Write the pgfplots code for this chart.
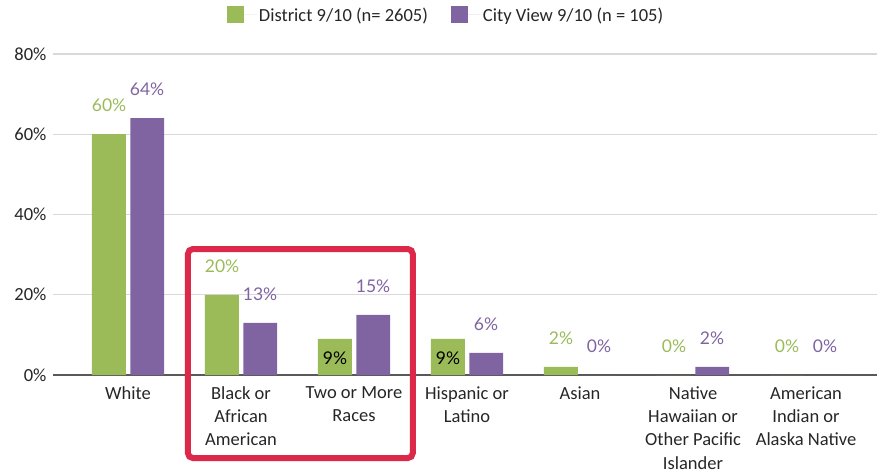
\documentclass[border=0pt]{standalone}
\usepackage{fontspec}
\setmainfont{Carlito}
\newfontfamily\labfont{Lato}
\usepackage{pgfplots}
\pgfplotsset{compat=1.18}
\usetikzlibrary{calc}
\definecolor{cgreen}{HTML}{9BBB59}
\definecolor{cpurple}{HTML}{8064A2}
\definecolor{cred}{HTML}{DC2849}
\definecolor{cgrid}{HTML}{D9D9D9}
\definecolor{caxis}{HTML}{595959}
\definecolor{ctext}{HTML}{262626}
\begin{document}
\begin{tikzpicture}
\begin{axis}[
  name=ax,
  scale only axis, width=824pt, height=321pt,
  xmin=-0.664, xmax=6.628, ymin=0, ymax=80,
  axis line style={draw=none},
  major tick length=0pt,
  ymajorgrids, grid style={cgrid, line width=1.3pt},
  ytick={20,40,60,80},
  extra y ticks={0},
  extra y tick labels={0\%},
  extra y tick style={grid style={caxis, line width=1.5pt}},
  yticklabel={\pgfmathprintnumber{\tick}\%},
  /pgf/number format/assume math mode=true,
  yticklabel style={font=\fontsize{18.5}{20}\selectfont, text=ctext, xshift=-3pt},
  xtick={0,1,2,3,4,5,6},
  xticklabels={White, Black or\\African\\American, Two or More\\Races, Hispanic or\\Latino, Asian, Native\\Hawaiian or\\Other Pacific\\Islander, American\\Indian or\\Alaska Native},
  xticklabel style={align=center, font=\fontsize{18.5}{23.3}\selectfont, text=ctext, yshift=-8pt},
  clip=false,
  legend style={at={(0.477,1)}, anchor=center, yshift=39pt, draw=none, fill=none,
    legend columns=2, font=\fontsize{18.5}{20}\selectfont, text=ctext,
    /tikz/every even column/.append style={column sep=21pt}},
  legend image code/.code={\path (0pt,0pt) -- (30pt,0pt); \fill[#1] (0pt,-8.5pt) rectangle (17pt,9pt);},
  nodes near coords style={font=\labfont\fontsize{17.5}{18}\selectfont, anchor=center, yshift=29pt},
]
\addplot[ybar, bar shift=-0.17, bar width=0.30, fill=cgreen, draw=none,
  nodes near coords, point meta=explicit symbolic,
  every node near coord/.append style={text=cgreen, xshift=-19pt}]
  coordinates {(0,60)[60\%] (1,20)[20\%] (2,9)[] (3,9)[] (4,2)[2\%] (5,0)[0\%] (6,0)[0\%]};
\addlegendentry{District 9/10 (n= 2605)}
\addplot[ybar, bar shift=0.17, bar width=0.30, fill=cpurple, draw=none,
  nodes near coords, point meta=explicit symbolic,
  every node near coord/.append style={text=cpurple, xshift=19pt}]
  coordinates {(0,64)[64\%] (1,13)[13\%] (2,15)[15\%] (3,5.5)[6\%] (4,0)[0\%] (5,2)[2\%] (6,0)[0\%]};
\addlegendentry{City View 9/10 (n = 105)}
\addplot[ybar, bar shift=-0.17, bar width=0.30, fill=none, draw=none, forget plot,
  nodes near coords, point meta=explicit symbolic,
  every node near coord/.append style={text=black, xshift=-19pt, yshift=-48pt}]
  coordinates {(2,9)[9\%] (3,9)[9\%]};
\draw[cred, line width=6pt, rounded corners=5pt] (axis cs:0.53,31.4) rectangle (axis cs:2.52,-20.7);
\end{axis}
\pgfresetboundingbox
\path[use as bounding box] ($(ax.south west)+(-53pt,-98pt)$) rectangle ($(ax.south west)+(824pt,375pt)$);
\end{tikzpicture}
\end{document}
